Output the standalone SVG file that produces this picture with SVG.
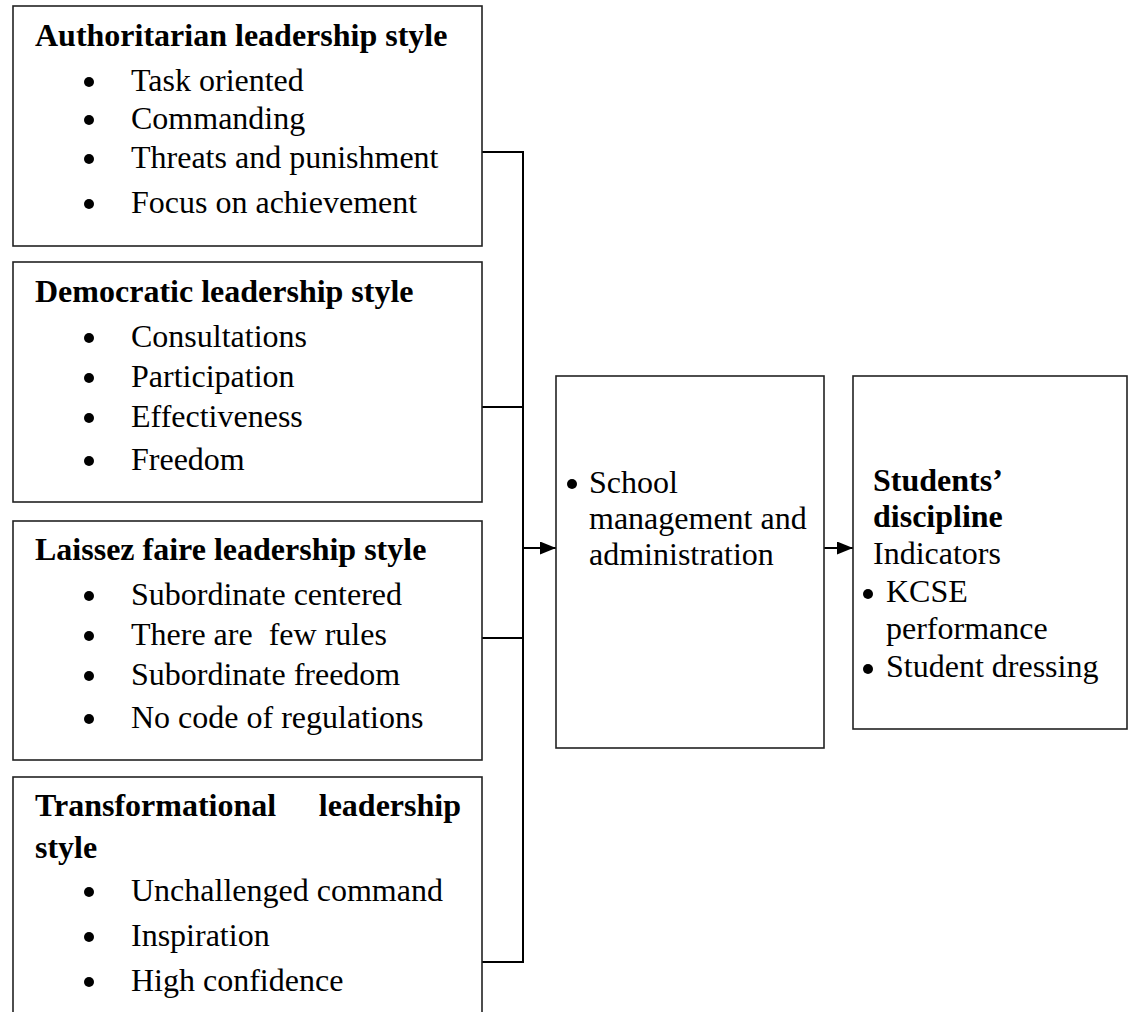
<svg xmlns="http://www.w3.org/2000/svg" width="1128" height="1012" viewBox="0 0 1128 1012">
<defs>
<marker id="arr" markerWidth="17" markerHeight="13" refX="16" refY="6.5" orient="auto" markerUnits="userSpaceOnUse"><path d="M0,0 L16,6.5 L0,13 z" fill="#000"/></marker>
<style>
.box{fill:#fff;stroke:#222;stroke-width:1.6}
.t{font-family:"Liberation Serif","Times New Roman",serif;font-size:32px;fill:#000}
.b{font-weight:bold}
.dot{fill:#000}
.c{fill:none;stroke:#000;stroke-width:2}
</style>
</defs>
<rect width="1128" height="1012" fill="#fff"/>

<g id="connectors">
<polyline class="c" points="482,152 523,152 523,962 482,962"/>
<line class="c" x1="482" y1="407" x2="523" y2="407"/>
<line class="c" x1="482" y1="638" x2="523" y2="638"/>
<line class="c" x1="523" y1="548" x2="556" y2="548" marker-end="url(#arr)"/>
<line class="c" x1="824" y1="548" x2="853" y2="548" marker-end="url(#arr)"/>
</g>

<g id="authoritarian">
<rect class="box" x="13" y="6" width="469" height="240"/>
<text class="t b" x="35" y="46">Authoritarian leadership style</text>
<circle class="dot" cx="89" cy="82" r="5"/><text class="t" x="131" y="91">Task oriented</text>
<circle class="dot" cx="89" cy="120" r="5"/><text class="t" x="131" y="129">Commanding</text>
<circle class="dot" cx="89" cy="159" r="5"/><text class="t" x="131" y="168">Threats and punishment</text>
<circle class="dot" cx="89" cy="204" r="5"/><text class="t" x="131" y="213">Focus on achievement</text>
</g>

<g id="democratic">
<rect class="box" x="13" y="262" width="469" height="240"/>
<text class="t b" x="35" y="302">Democratic leadership style</text>
<circle class="dot" cx="89" cy="338" r="5"/><text class="t" x="131" y="347">Consultations</text>
<circle class="dot" cx="89" cy="378" r="5"/><text class="t" x="131" y="387">Participation</text>
<circle class="dot" cx="89" cy="418" r="5"/><text class="t" x="131" y="427">Effectiveness</text>
<circle class="dot" cx="89" cy="461" r="5"/><text class="t" x="131" y="470">Freedom</text>
</g>

<g id="laissez-faire">
<rect class="box" x="13" y="521" width="469" height="239"/>
<text class="t b" x="35" y="560">Laissez faire leadership style</text>
<circle class="dot" cx="89" cy="596" r="5"/><text class="t" x="131" y="605">Subordinate centered</text>
<circle class="dot" cx="89" cy="636" r="5"/><text class="t" x="131" y="645" xml:space="preserve">There are  few rules</text>
<circle class="dot" cx="89" cy="676" r="5"/><text class="t" x="131" y="685">Subordinate freedom</text>
<circle class="dot" cx="89" cy="719" r="5"/><text class="t" x="131" y="728">No code of regulations</text>
</g>

<g id="transformational">
<rect class="box" x="13" y="777" width="469" height="260"/>
<text class="t b" x="35" y="816">Transformational</text>
<text class="t b" x="461" y="816" text-anchor="end">leadership</text>
<text class="t b" x="35" y="858">style</text>
<circle class="dot" cx="89" cy="892" r="5"/><text class="t" x="131" y="901">Unchallenged command</text>
<circle class="dot" cx="89" cy="937" r="5"/><text class="t" x="131" y="946">Inspiration</text>
<circle class="dot" cx="89" cy="982" r="5"/><text class="t" x="131" y="991">High confidence</text>
</g>

<g id="school-management">
<rect class="box" x="556" y="376" width="268" height="372"/>
<circle class="dot" cx="572" cy="484" r="5"/>
<text class="t" x="589" y="493">School</text>
<text class="t" x="589" y="529">management and</text>
<text class="t" x="589" y="565">administration</text>
</g>

<g id="students-discipline">
<rect class="box" x="853" y="376" width="274" height="353"/>
<text class="t b" x="873" y="491">Students’</text>
<text class="t b" x="873" y="527">discipline</text>
<text class="t" x="873" y="564">Indicators</text>
<circle class="dot" cx="868" cy="594" r="5"/>
<text class="t" x="886" y="602">KCSE</text>
<text class="t" x="886" y="639">performance</text>
<circle class="dot" cx="868" cy="669" r="5"/>
<text class="t" x="886" y="677">Student dressing</text>
</g>
</svg>
